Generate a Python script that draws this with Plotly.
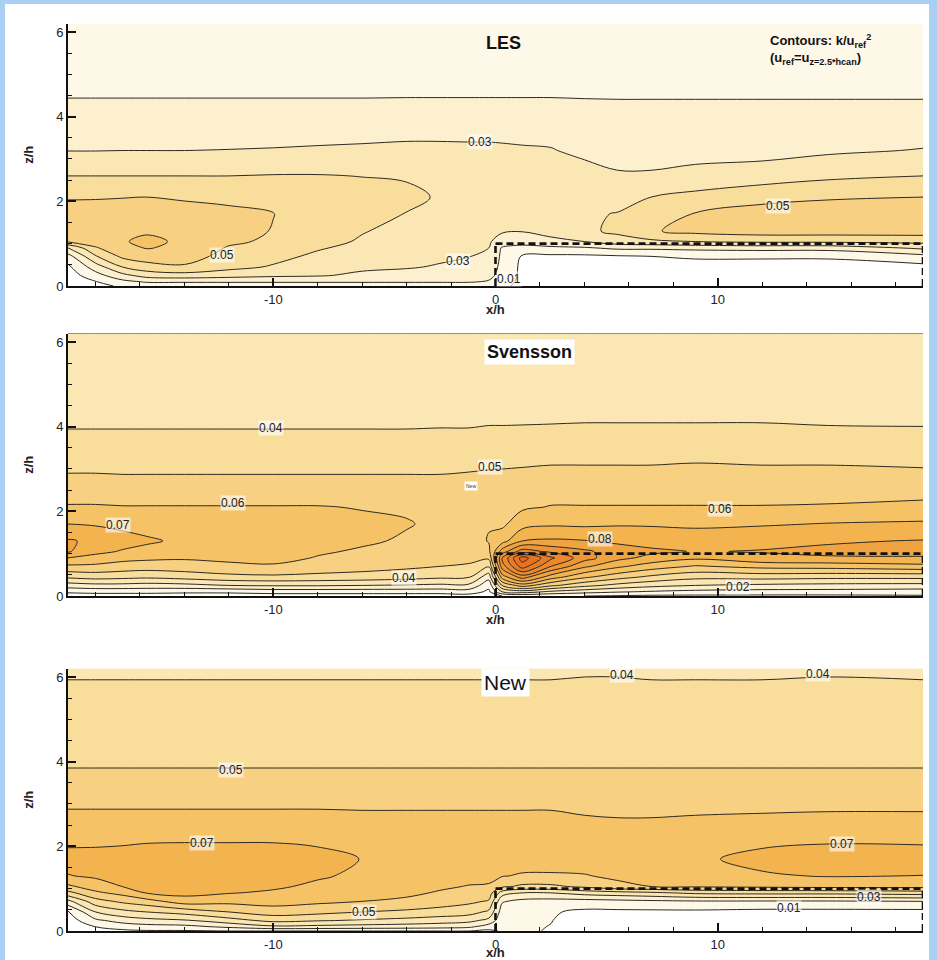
import numpy as np
import plotly.graph_objects as go

# ---------------- data ----------------
X_GRID = [-19.24, -18, -16.8, -15.7, -14, -12, -10, -8, -6, -4, -2.5, -1.2, -0.3,
          0.3, 1.2, 2.5, 4, 5.5, 7, 9, 12, 15, 19.24]
Z_GRID = [0, 0.1, 0.25, 0.45, 0.7, 0.9, 1.05, 1.3, 1.7, 2.1, 2.6, 3.2, 3.9, 4.6, 5.4, 6.2]

# each inner list: k/u_ref^2 at one x, from z/h=0 up to z/h=6.2
LES_COLUMNS = [
    [0.002, 0.003, 0.005, 0.008, 0.016, 0.030, 0.051, 0.056, 0.055, 0.049, 0.040, 0.0298, 0.025, 0.0185, 0.015, 0.012],
    [0.006, 0.0095, 0.016, 0.025, 0.039, 0.049, 0.055, 0.058, 0.056, 0.049, 0.040, 0.0298, 0.025, 0.0185, 0.015, 0.012],
    [0.012, 0.017, 0.027, 0.040, 0.052, 0.057, 0.059, 0.059, 0.057, 0.0495, 0.040, 0.030, 0.025, 0.0185, 0.015, 0.012],
    [0.014, 0.021, 0.034, 0.046, 0.055, 0.0605, 0.0625, 0.0585, 0.057, 0.050, 0.040, 0.030, 0.025, 0.0185, 0.015, 0.012],
    [0.014, 0.021, 0.036, 0.0485, 0.055, 0.058, 0.058, 0.057, 0.055, 0.0485, 0.040, 0.030, 0.025, 0.0185, 0.015, 0.012],
    [0.014, 0.021, 0.034, 0.043, 0.046, 0.049, 0.052, 0.054, 0.053, 0.047, 0.040, 0.0302, 0.025, 0.0185, 0.015, 0.012],
    [0.014, 0.021, 0.032, 0.039, 0.043, 0.046, 0.048, 0.0495, 0.0502, 0.047, 0.0405, 0.0305, 0.025, 0.0185, 0.015, 0.012],
    [0.014, 0.021, 0.031, 0.034, 0.038, 0.041, 0.043, 0.045, 0.046, 0.045, 0.0405, 0.031, 0.025, 0.0185, 0.015, 0.012],
    [0.014, 0.021, 0.028, 0.032, 0.035, 0.037, 0.039, 0.0405, 0.0425, 0.0435, 0.0398, 0.0315, 0.025, 0.0185, 0.015, 0.012],
    [0.014, 0.021, 0.026, 0.031, 0.0335, 0.035, 0.036, 0.0375, 0.0398, 0.0412, 0.0395, 0.032, 0.0255, 0.0185, 0.015, 0.012],
    [0.014, 0.021, 0.024, 0.029, 0.032, 0.033, 0.034, 0.035, 0.037, 0.0395, 0.0375, 0.032, 0.0255, 0.0185, 0.015, 0.012],
    [0.013, 0.021, 0.025, 0.028, 0.0302, 0.0315, 0.0325, 0.034, 0.036, 0.037, 0.036, 0.0318, 0.0255, 0.0185, 0.015, 0.012],
    [0.011, 0.019, 0.023, 0.026, 0.028, 0.0300, 0.031, 0.033, 0.035, 0.036, 0.035, 0.0318, 0.0255, 0.0185, 0.015, 0.012],
    [0.013, 0.015, 0.016, 0.017, 0.018, 0.019, 0.026, 0.031, 0.034, 0.0355, 0.0345, 0.0315, 0.0255, 0.0185, 0.015, 0.012],
    [0.006, 0.007, 0.008, 0.008, 0.009, 0.017, 0.024, 0.0305, 0.034, 0.0355, 0.0345, 0.031, 0.0255, 0.0185, 0.015, 0.012],
    [0.005, 0.005, 0.006, 0.007, 0.008, 0.018, 0.027, 0.034, 0.0355, 0.036, 0.035, 0.0305, 0.0255, 0.0185, 0.015, 0.012],
    [0.005, 0.005, 0.006, 0.007, 0.008, 0.019, 0.030, 0.038, 0.0385, 0.037, 0.0335, 0.028, 0.0245, 0.0185, 0.015, 0.012],
    [0.005, 0.005, 0.006, 0.007, 0.009, 0.022, 0.036, 0.042, 0.0405, 0.036, 0.031, 0.0265, 0.024, 0.0185, 0.015, 0.012],
    [0.005, 0.005, 0.006, 0.007, 0.010, 0.022, 0.038, 0.049, 0.046, 0.040, 0.031, 0.0265, 0.024, 0.0185, 0.015, 0.012],
    [0.005, 0.005, 0.006, 0.007, 0.011, 0.023, 0.040, 0.053, 0.0505, 0.043, 0.0325, 0.027, 0.024, 0.0185, 0.015, 0.012],
    [0.005, 0.005, 0.006, 0.007, 0.011, 0.024, 0.042, 0.055, 0.054, 0.047, 0.035, 0.0265, 0.024, 0.0185, 0.015, 0.012],
    [0.005, 0.005, 0.006, 0.007, 0.011, 0.024, 0.042, 0.055, 0.055, 0.049, 0.038, 0.0285, 0.024, 0.0185, 0.015, 0.012],
    [0.005, 0.005, 0.006, 0.007, 0.017, 0.032, 0.043, 0.055, 0.056, 0.050, 0.040, 0.0305, 0.024, 0.0185, 0.015, 0.012],
]

SVENSSON_COLUMNS = [
    [0.004, 0.012, 0.025, 0.042, 0.058, 0.070, 0.081, 0.081, 0.070, 0.061, 0.053, 0.047, 0.0403, 0.0355, 0.032, 0.030],
    [0.005, 0.013, 0.027, 0.044, 0.058, 0.066, 0.073, 0.078, 0.069, 0.061, 0.053, 0.047, 0.0403, 0.0355, 0.032, 0.030],
    [0.005, 0.013, 0.027, 0.043, 0.056, 0.063, 0.069, 0.0745, 0.067, 0.0605, 0.0525, 0.047, 0.0403, 0.0355, 0.032, 0.030],
    [0.005, 0.013, 0.026, 0.042, 0.055, 0.062, 0.067, 0.0715, 0.066, 0.0605, 0.0525, 0.047, 0.0403, 0.0355, 0.032, 0.030],
    [0.005, 0.012, 0.027, 0.044, 0.056, 0.061, 0.065, 0.068, 0.065, 0.0605, 0.0525, 0.047, 0.0403, 0.0355, 0.032, 0.030],
    [0.005, 0.012, 0.030, 0.047, 0.058, 0.062, 0.064, 0.066, 0.065, 0.0605, 0.0525, 0.047, 0.0403, 0.0355, 0.032, 0.030],
    [0.005, 0.014, 0.031, 0.048, 0.059, 0.0625, 0.064, 0.065, 0.0645, 0.0605, 0.0525, 0.047, 0.0403, 0.0355, 0.032, 0.030],
    [0.005, 0.014, 0.031, 0.047, 0.056, 0.0595, 0.061, 0.063, 0.0635, 0.0605, 0.0525, 0.047, 0.0403, 0.0355, 0.032, 0.030],
    [0.005, 0.014, 0.030, 0.046, 0.054, 0.057, 0.059, 0.0612, 0.062, 0.0595, 0.0525, 0.047, 0.0403, 0.0355, 0.032, 0.030],
    [0.005, 0.014, 0.029, 0.044, 0.052, 0.055, 0.057, 0.059, 0.0605, 0.059, 0.0525, 0.047, 0.0403, 0.0355, 0.032, 0.030],
    [0.005, 0.014, 0.028, 0.042, 0.050, 0.053, 0.055, 0.057, 0.0585, 0.058, 0.0525, 0.047, 0.0405, 0.0355, 0.032, 0.030],
    [0.006, 0.015, 0.028, 0.041, 0.049, 0.052, 0.054, 0.056, 0.058, 0.058, 0.053, 0.0475, 0.0405, 0.0355, 0.032, 0.030],
    [0.006, 0.008, 0.013, 0.024, 0.041, 0.052, 0.058, 0.0605, 0.0595, 0.058, 0.0535, 0.048, 0.041, 0.0355, 0.032, 0.030],
    [0.010, 0.030, 0.050, 0.075, 0.095, 0.100, 0.085, 0.066, 0.058, 0.057, 0.054, 0.048, 0.041, 0.0355, 0.032, 0.030],
    [0.012, 0.035, 0.065, 0.095, 0.125, 0.135, 0.105, 0.080, 0.066, 0.0585, 0.054, 0.0485, 0.041, 0.036, 0.032, 0.030],
    [0.011, 0.028, 0.052, 0.075, 0.100, 0.112, 0.098, 0.0815, 0.0685, 0.0605, 0.0545, 0.049, 0.0412, 0.036, 0.032, 0.030],
    [0.010, 0.024, 0.043, 0.062, 0.082, 0.094, 0.092, 0.0805, 0.068, 0.0605, 0.0545, 0.049, 0.0415, 0.036, 0.032, 0.030],
    [0.009, 0.021, 0.037, 0.054, 0.072, 0.083, 0.085, 0.078, 0.069, 0.0605, 0.0545, 0.049, 0.0415, 0.036, 0.032, 0.030],
    [0.008, 0.019, 0.033, 0.048, 0.065, 0.077, 0.082, 0.076, 0.069, 0.0605, 0.0545, 0.049, 0.0415, 0.036, 0.032, 0.030],
    [0.008, 0.017, 0.030, 0.043, 0.059, 0.072, 0.0795, 0.076, 0.068, 0.0605, 0.0545, 0.0495, 0.0415, 0.036, 0.032, 0.030],
    [0.008, 0.016, 0.028, 0.044, 0.063, 0.078, 0.0805, 0.0775, 0.069, 0.0605, 0.0545, 0.049, 0.0415, 0.036, 0.032, 0.030],
    [0.008, 0.016, 0.027, 0.043, 0.064, 0.079, 0.082, 0.079, 0.0705, 0.061, 0.0545, 0.049, 0.041, 0.0355, 0.032, 0.030],
    [0.009, 0.015, 0.0265, 0.043, 0.067, 0.079, 0.083, 0.0805, 0.0715, 0.0625, 0.055, 0.048, 0.0408, 0.0355, 0.032, 0.030],
]

NEW_COLUMNS = [
    [0.002, 0.003, 0.005, 0.008, 0.027, 0.047, 0.058, 0.0695, 0.074, 0.068, 0.063, 0.0565, 0.0495, 0.0465, 0.043, 0.0385],
    [0.006, 0.010, 0.018, 0.030, 0.046, 0.058, 0.065, 0.0715, 0.0745, 0.068, 0.063, 0.0565, 0.0495, 0.0465, 0.043, 0.0385],
    [0.008, 0.014, 0.024, 0.037, 0.052, 0.063, 0.070, 0.0745, 0.0755, 0.0685, 0.063, 0.0565, 0.0495, 0.0465, 0.043, 0.0385],
    [0.009, 0.016, 0.027, 0.040, 0.056, 0.0705, 0.074, 0.076, 0.076, 0.0695, 0.063, 0.0565, 0.0495, 0.0465, 0.043, 0.0385],
    [0.009, 0.017, 0.029, 0.044, 0.065, 0.073, 0.075, 0.0765, 0.076, 0.0698, 0.063, 0.0565, 0.0495, 0.0465, 0.043, 0.0385],
    [0.010, 0.022, 0.036, 0.050, 0.063, 0.0705, 0.073, 0.075, 0.0755, 0.0698, 0.063, 0.0565, 0.0495, 0.0465, 0.043, 0.0385],
    [0.010, 0.028, 0.043, 0.055, 0.064, 0.0685, 0.0715, 0.074, 0.0745, 0.0698, 0.063, 0.0565, 0.0495, 0.0465, 0.043, 0.0385],
    [0.010, 0.027, 0.041, 0.053, 0.062, 0.066, 0.068, 0.0712, 0.0725, 0.069, 0.063, 0.0565, 0.0495, 0.0465, 0.043, 0.0385],
    [0.010, 0.026, 0.039, 0.050, 0.060, 0.064, 0.066, 0.068, 0.0698, 0.068, 0.0625, 0.0565, 0.0495, 0.0465, 0.043, 0.0385],
    [0.010, 0.025, 0.037, 0.048, 0.058, 0.062, 0.064, 0.066, 0.067, 0.066, 0.0625, 0.0565, 0.0495, 0.0465, 0.043, 0.0385],
    [0.010, 0.024, 0.035, 0.046, 0.055, 0.059, 0.0615, 0.064, 0.066, 0.0655, 0.0625, 0.0565, 0.0495, 0.0465, 0.043, 0.0385],
    [0.010, 0.022, 0.033, 0.044, 0.052, 0.057, 0.0595, 0.063, 0.0655, 0.0655, 0.0625, 0.0565, 0.0495, 0.0465, 0.043, 0.0385],
    [0.008, 0.015, 0.027, 0.038, 0.049, 0.055, 0.059, 0.0625, 0.0655, 0.0655, 0.0625, 0.0565, 0.0495, 0.0465, 0.043, 0.0385],
    [0.011, 0.012, 0.013, 0.015, 0.021, 0.035, 0.052, 0.0605, 0.065, 0.0655, 0.0625, 0.0565, 0.0495, 0.0465, 0.043, 0.0385],
    [0.011, 0.011, 0.012, 0.013, 0.017, 0.030, 0.048, 0.059, 0.0645, 0.066, 0.0625, 0.0565, 0.0495, 0.0465, 0.043, 0.0385],
    [0.0095, 0.0098, 0.0102, 0.011, 0.016, 0.030, 0.048, 0.059, 0.064, 0.066, 0.0625, 0.0565, 0.0495, 0.0465, 0.043, 0.0385],
    [0.006, 0.006, 0.007, 0.008, 0.016, 0.034, 0.052, 0.0595, 0.064, 0.066, 0.061, 0.0565, 0.0495, 0.0465, 0.043, 0.039],
    [0.006, 0.006, 0.007, 0.008, 0.017, 0.036, 0.058, 0.0615, 0.0645, 0.0655, 0.0605, 0.0565, 0.0495, 0.0465, 0.043, 0.039],
    [0.006, 0.006, 0.007, 0.008, 0.018, 0.038, 0.060, 0.064, 0.0665, 0.066, 0.0605, 0.0565, 0.0495, 0.0465, 0.043, 0.0385],
    [0.006, 0.006, 0.007, 0.008, 0.019, 0.042, 0.061, 0.067, 0.0685, 0.0665, 0.061, 0.0565, 0.0495, 0.0465, 0.043, 0.0385],
    [0.005, 0.005, 0.006, 0.007, 0.019, 0.043, 0.062, 0.069, 0.0725, 0.0685, 0.0615, 0.0565, 0.0495, 0.0465, 0.043, 0.0385],
    [0.005, 0.005, 0.006, 0.007, 0.019, 0.043, 0.063, 0.0705, 0.074, 0.0695, 0.062, 0.0565, 0.0495, 0.0465, 0.043, 0.039],
    [0.005, 0.005, 0.006, 0.007, 0.020, 0.045, 0.063, 0.0698, 0.075, 0.069, 0.062, 0.0565, 0.0495, 0.0465, 0.043, 0.0385],
]

PANEL_NAMES = ["LES", "Svensson", "New"]
LEVEL_START, LEVEL_END, LEVEL_STEP = 0.01, 0.13, 0.01
CANOPY_START = 0.0      # x/h of the canopy edge
CANOPY_HEIGHT = 1.0     # z/h of the canopy top
X_TICKS = [-10, 0, 10]
X_TICK_TEXT = ["-10", "0", "10"]
Z_TICKS = [0, 2, 4, 6]

# contour labels as printed: (panel, x/h, z/h, text)
CONTOUR_LABELS = [
    (0, -0.7, 3.4, "0.03"), (0, 12.7, 1.9, "0.05"), (0, -12.3, 0.73, "0.05"),
    (0, -1.7, 0.6, "0.03"), (0, 0.6, 0.17, "0.01"),
    (1, -10.1, 3.97, "0.04"), (1, -0.25, 3.05, "0.05"), (1, -11.8, 2.2, "0.06"),
    (1, -17.0, 1.68, "0.07"), (1, -4.1, 0.42, "0.04"), (1, 10.1, 2.05, "0.06"),
    (1, 4.7, 1.35, "0.08"), (1, 10.9, 0.22, "0.02"),
    (2, 5.7, 6.05, "0.04"), (2, 14.5, 6.08, "0.04"), (2, -11.9, 3.8, "0.05"),
    (2, -13.2, 2.08, "0.07"), (2, -5.9, 0.46, "0.05"), (2, 15.6, 2.05, "0.07"),
    (2, 16.8, 0.81, "0.03"), (2, 13.2, 0.55, "0.01"),
]

# ---------------- style ----------------
W, H = 937, 960
X_RANGE = [-19.24, 19.24]
Z_RANGE = [0, 6.2]
FONT = "Liberation Sans, Arial, sans-serif"
BAND_COLORS = ["#FFFFFF", "#FEF8E8", "#FCF0CF", "#FBE7B4", "#F9DD9B", "#F7D081",
               "#F5C366", "#F3B450", "#F0A341", "#EE9535", "#EC882D", "#EA7C27",
               "#E87222", "#E5681E"]
nb = len(BAND_COLORS) - 1
colorscale = []
for k, c in enumerate(BAND_COLORS):
    lo = max(0.0, (k - 0.5) / nb)
    hi = min(1.0, (k + 0.5) / nb)
    colorscale.append([lo, c])
    colorscale.append([hi, c])

x_dom = [68 / W, 923 / W]
# pixel rows of z=0 and z=6.2 for each panel, and of the x/h title
panel_px = [(286, 23.5), (596, 333.5), (931, 668.5)]
xtitle_px = [310, 620, 952]
y_doms = [[(H - b) / H, (H - t) / H] for b, t in panel_px]

fig = go.Figure()
fields = [LES_COLUMNS, SVENSSON_COLUMNS, NEW_COLUMNS]
for i, cols in enumerate(fields):
    sfx = "" if i == 0 else str(i + 1)
    fig.add_trace(go.Contour(
        x=X_GRID, y=Z_GRID, z=np.array(cols).T,
        xaxis="x" + sfx, yaxis="y" + sfx,
        autocontour=False,
        contours=dict(start=LEVEL_START, end=LEVEL_END, size=LEVEL_STEP,
                      coloring="fill", showlabels=False),
        colorscale=colorscale, showscale=False,
        line=dict(color="#2e2a22", width=1, smoothing=1.0),
        hoverinfo="skip",
    ))

layout = dict(
    width=W, height=H, template="none",
    margin=dict(l=0, r=0, t=0, b=0),
    paper_bgcolor="#A9CFF2", plot_bgcolor="rgba(0,0,0,0)",
    font=dict(family=FONT, color="#222"),
    showlegend=False,
)
for i in range(3):
    sfx = "" if i == 0 else str(i + 1)
    layout["xaxis" + sfx] = dict(
        domain=x_dom, anchor="y" + sfx, range=X_RANGE, autorange=False,
        showline=True, linecolor="#111", linewidth=2, mirror=False,
        ticks="inside", ticklen=8, tickwidth=1.5, tickcolor="#111",
        tickmode="array", tickvals=X_TICKS, ticktext=X_TICK_TEXT,
        tickfont=dict(size=13, family=FONT, color="#222"),
        minor=dict(ticks="inside", ticklen=4, tickwidth=1.2, tickcolor="#111",
                   tickmode="linear", tick0=0, dtick=2),
        showgrid=False, zeroline=False, automargin=False,
    )
    layout["yaxis" + sfx] = dict(
        domain=y_doms[i], anchor="x" + sfx, range=Z_RANGE, autorange=False,
        showline=True, linecolor="#111", linewidth=2, mirror=False,
        ticks="inside", ticklen=8, tickwidth=1.5, tickcolor="#111",
        tickmode="array", tickvals=Z_TICKS, ticktext=[str(t) for t in Z_TICKS],
        tickfont=dict(size=13, family=FONT, color="#222"),
        minor=dict(ticks="inside", ticklen=4, tickwidth=1.2, tickcolor="#111",
                   tickmode="linear", tick0=0, dtick=0.5),
        showgrid=False, zeroline=False, automargin=False,
        title=dict(text="<b>z/h</b>", font=dict(size=13, family=FONT, color="#222"), standoff=20),
    )
fig.update_layout(**layout)

shapes = [dict(type="rect", xref="paper", yref="paper", x0=5 / W, x1=929 / W, y0=0, y1=(H - 4) / H,
               fillcolor="white", line=dict(width=0), layer="below")]
dash = dict(color="#111", width=2.6, dash="7px,4px")
for i in range(3):
    sfx = "" if i == 0 else str(i + 1)
    xr, yr = "x" + sfx, "y" + sfx
    shapes += [
        dict(type="line", xref=xr, yref=yr, x0=CANOPY_START, x1=CANOPY_START, y0=0, y1=CANOPY_HEIGHT, line=dash),
        dict(type="line", xref=xr, yref=yr, x0=CANOPY_START, x1=X_RANGE[1], y0=CANOPY_HEIGHT, y1=CANOPY_HEIGHT, line=dash),
        dict(type="line", xref=xr, yref=yr, x0=X_RANGE[1], x1=X_RANGE[1], y0=0, y1=CANOPY_HEIGHT, line=dash),
    ]
fig.update_layout(shapes=shapes)

ann = []
for p, x, z, t in CONTOUR_LABELS:
    sfx = "" if p == 0 else str(p + 1)
    ann.append(dict(x=x, y=z, xref="x" + sfx, yref="y" + sfx, text=t, showarrow=False,
                    font=dict(size=12, family=FONT, color="#222"),
                    bgcolor="rgba(255,255,255,0.6)", borderpad=0))
# x-axis titles
for i in range(3):
    sfx = "" if i == 0 else str(i + 1)
    ann.append(dict(x=0, y=(H - xtitle_px[i]) / H, xref="x" + sfx, yref="paper", text="<b>x/h</b>",
                    showarrow=False, yanchor="middle",
                    font=dict(size=13, family=FONT, color="#222")))
# panel titles
ann.append(dict(x=0.35, y=5.74, xref="x", yref="y", text="<b>LES</b>", showarrow=False,
                font=dict(size=18, family=FONT, color="#111")))
ann.append(dict(x=1.55, y=5.76, xref="x2", yref="y2", text="<b>Svensson</b>", showarrow=False,
                font=dict(size=18, family=FONT, color="#111"), bgcolor="white", borderpad=2))
ann.append(dict(x=0.47, y=5.86, xref="x3", yref="y3", text="New", showarrow=False,
                font=dict(size=21, family=FONT, color="#111"), bgcolor="white", borderpad=2))
ann.append(dict(x=-1.1, y=2.6, xref="x2", yref="y2", text="New", showarrow=False,
                font=dict(size=5, family=FONT, color="#333"), bgcolor="white", borderpad=1))
ann.append(dict(x=768 / W, y=(H - 30) / H, xref="paper", yref="paper", xanchor="left", yanchor="top",
                align="left", showarrow=False,
                text="<b>Contours: k/u<sub>ref</sub><sup>2</sup><br>(u<sub>ref</sub>=u<sub>z=2.5*hcan</sub>)</b>",
                font=dict(size=13, family=FONT, color="#111")))
fig.update_layout(annotations=ann)

fig.write_html("out.html", config={"displayModeBar": False},
               post_script="document.body.style.margin='0';document.body.style.overflow='hidden';")
